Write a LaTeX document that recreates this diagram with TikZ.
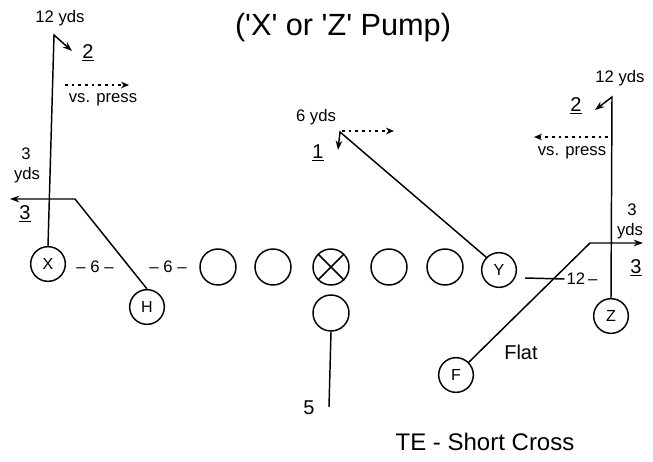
\documentclass[tikz,border=0pt]{standalone}
\usepackage{fontspec}
\setmainfont{Liberation Sans}
\usetikzlibrary{arrows.meta}
\newcommand{\sq}{\textquotesingle}

\begin{document}
\begin{tikzpicture}[x=0.75pt, y=-0.75pt, line width=1.1pt,
 man/.style={circle, draw, line width=1.1pt, minimum size=27pt, inner sep=0pt, font=\fontsize{12}{12}\selectfont},
 back/.style={man, minimum size=26pt},
 route/.style={line width=1.1pt, -{Stealth[length=7pt,width=5pt]}},
 press/.style={line width=1pt, dash pattern=on 2pt off 3pt, -{Stealth[length=6pt,width=5pt]}},
 note/.style={font=\fontsize{12.5}{12.5}\selectfont, inner sep=1pt},
 big/.style={font=\fontsize{15}{15}\selectfont, inner sep=1pt}]
\useasboundingbox (0,0) rectangle (653,461);

\node[font=\fontsize{23}{23}\selectfont](title) at (343,28){(\sq X\sq{} or \sq Z\sq{} Pump)};

% line
\node[man](L1) at (218,267){};
\node[man](L2) at (273,267){};
\node[man](C) at (331,267){};
\draw[line width=1.1pt] (C.north east)--(C.south west) (C.north west)--(C.south east);
\node[man](R1) at (389,267){};
\node[man](R2) at (445,267){};
\node[back](Y) at (499,270){Y};
\node[man](QB) at (331,313){};

% backs and wideouts
\node[back](X) at (48,264){X};
\node[back](H) at (147,307){H};
\node[back](F) at (456,375){F};
\node[back](Z) at (611,316){Z};

% splits
\node[note](s1) at (95,267){-- 6 --};
\node[note](s2) at (168,267){-- 6 --};
\node[note](s3) at (582,279){12\,--};
\draw[line width=1.1pt] (525,278)--(s3.west);

% X pump
\coordinate(xtop) at (54,35);
\coordinate(xend) at (72,51);
\draw[route] (X.north)--(xtop)--(xend);
\node[note](xyds) at (60,18){12 yds};
\node[big](x2) at (88,53){\underline{2}};
\draw[press] (65,85)--(129,85);
\node[note](xpress) at (103,100){vs. press};

% H short out
\coordinate(hbrk) at (75,199);
\coordinate(hend) at (10,199);
\draw[route] (H.north)--(hbrk)--(hend);
\node[note](h3) at (26,154){3};
\node[note](hyds) at (27,175){yds};
\node[big](hnum) at (25,214){\underline{3}};

% Y cross
\coordinate(ytop) at (340,132);
\coordinate(yend) at (338,150);
\draw[route] (Y.north west)--(ytop)--(yend);
\node[note](yyds) at (316,117){6 yds};
\node[big](y1) at (318,153){\underline{1}};
\draw[press] (342,131)--(394,131);

% Z pump
\coordinate(ztop) at (612,97);
\coordinate(zend) at (595,110);
\draw[route] (Z.north)--(ztop)--(zend);
\node[note](zyds) at (620,78){12 yds};
\node[big](z2) at (576,106){\underline{2}};
\draw[press] (608,137)--(534,137);
\node[note](zpress) at (572,153){vs. press};

% F flat
\coordinate(fbrk) at (590,243);
\coordinate(fend) at (643,243);
\draw[route] (F.north east)--(fbrk)--(fend);
\node[note](f3) at (632,210){3};
\node[note](fyds) at (630,231){yds};
\node[big](fnum) at (636,268){\underline{3}};
\node[big](flat) at (521,352){Flat};

% QB drop
\coordinate(qbend) at (329,407);
\draw[line width=1.1pt] (QB.south)--(qbend);
\node[big](drop) at (309,408){5};

\node[font=\fontsize{18}{18}\selectfont](te) at (485,442){TE - Short Cross};

\end{tikzpicture}
\end{document}
